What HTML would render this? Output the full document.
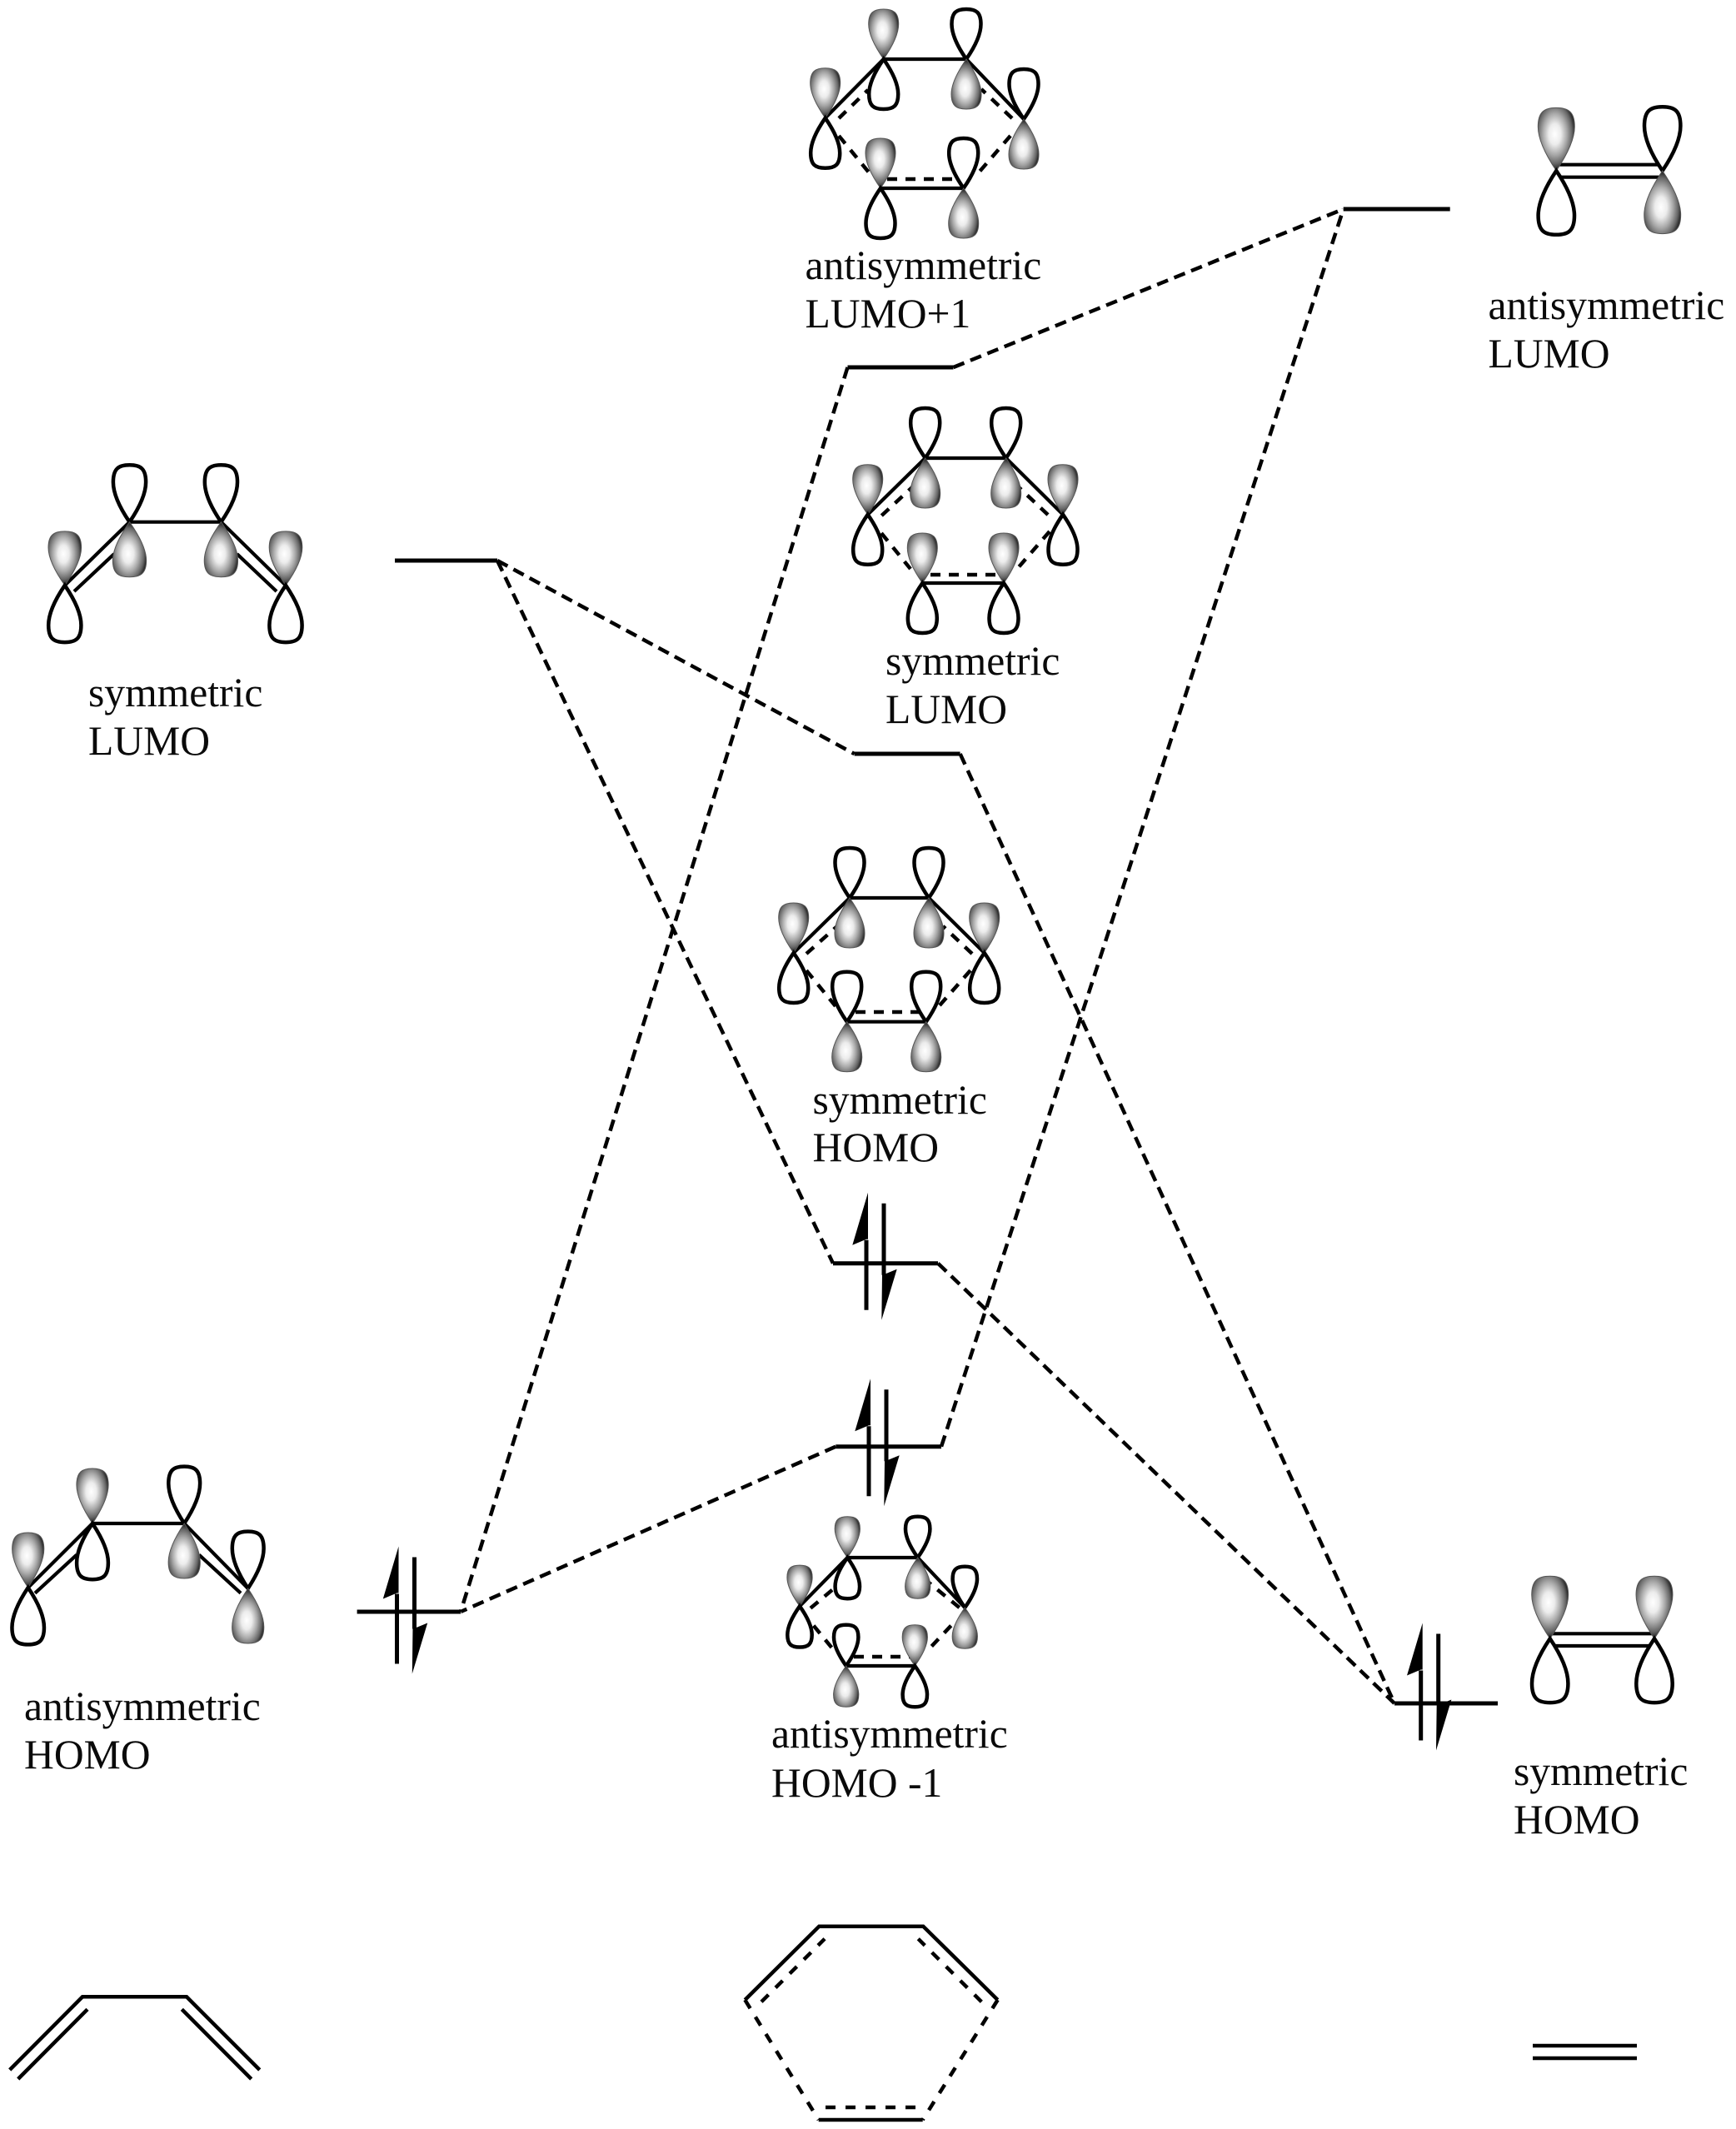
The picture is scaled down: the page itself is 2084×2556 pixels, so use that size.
<!DOCTYPE html>
<html><head><meta charset="utf-8"><title>Orbital correlation diagram</title>
<style>html,body{margin:0;padding:0;background:#fff}svg{display:block}
text{font-family:"Liberation Serif",serif;font-size:49.6px;fill:#0a0a0a}
.b{stroke:#000;stroke-width:4.5;fill:none}
.t{stroke:#000;stroke-width:4.2;fill:none}
.d{stroke:#000;stroke-width:4.5;fill:none;stroke-dasharray:12 10}
.c{stroke:#000;stroke-width:4.5;fill:none;stroke-dasharray:14 8}
.l{stroke:#000;stroke-width:5;fill:none}
</style></head><body>
<svg width="2084" height="2556" viewBox="0 0 2084 2556" xmlns="http://www.w3.org/2000/svg">
<defs>
<radialGradient id="g" cx=".46" cy=".42" r=".55">
<stop offset="0" stop-color="#ffffff"/><stop offset=".3" stop-color="#ececec"/><stop offset=".6" stop-color="#a8a8a8"/><stop offset=".85" stop-color="#666666"/><stop offset="1" stop-color="#2a2a2a"/>
</radialGradient>
<path id="s" d="M0,0 C-9,-13 -18,-29 -18,-42 C-18,-56 -12,-60 0,-60 C12,-60 18,-56 18,-42 C18,-29 9,-13 0,0Z" fill="url(#g)" stroke="#555" stroke-width="1" vector-effect="non-scaling-stroke"/>
<path id="o" d="M0,0 C-9,-13 -17.5,-29 -17.5,-42 C-17.5,-56 -12,-60 0,-60 C12,-60 17.5,-56 17.5,-42 C17.5,-29 9,-13 0,0Z" fill="#fff" stroke="#000" stroke-width="4.5" vector-effect="non-scaling-stroke"/>
<g id="e">
<path class="l" d="M0,-28V56M21,-72V14"/>
<polygon points="2,-85 -16.7,-22 0,-29 2,-29" fill="#000"/>
<polygon points="18.3,68 36.7,7 22,13 19,13" fill="#000"/>
</g>
</defs>
<rect width="2084" height="2556" fill="#fff"/>

<!-- connectors -->
<path class="c" d="M597,673L1025.6,905M597,673L1000,1516.7M1152.6,905L1674,2045M1144.5,441L1612.7,251M1017.5,441L553,1935M1126,1516.7L1674,2045M1003.3,1736.7L553,1935M1130,1736.7L1612.7,251"/>

<!-- levels -->
<path class="l" d="M474,673H597M1612.7,251H1740.7M1017.5,441H1144.5M1025.6,905H1152.6M1000,1516.7H1126M1003.3,1736.7H1130M428.6,1935H553M1674,2045H1798"/>
<use href="#e" transform="translate(1040,1516.7)"/>
<use href="#e" transform="translate(1043,1740.2)"/>
<use href="#e" transform="translate(476.5,1941.5)"/>
<use href="#e" transform="translate(1705.7,2033.5)"/>

<!-- LUMO+1 ring -->
<path class="t" d="M990.7,141.7L1060.7,71H1160L1229,143M1057,226H1156.7"/>
<path class="d" d="M1007,142L1042,108M1215,142L1178,107M1007,163L1043,207M1213,163L1175,207M1065,215H1148"/>
<use href="#s" transform="translate(1060.7,71)"/><use href="#o" transform="translate(1060.7,71) scale(1,-1)"/>
<use href="#o" transform="translate(1160,71)"/><use href="#s" transform="translate(1160,71) scale(1,-1)"/>
<use href="#s" transform="translate(990.7,141.7)"/><use href="#o" transform="translate(990.7,141.7) scale(1,-1)"/>
<use href="#o" transform="translate(1229,143)"/><use href="#s" transform="translate(1229,143) scale(1,-1)"/>
<use href="#s" transform="translate(1057,226)"/><use href="#o" transform="translate(1057,226) scale(1,-1)"/>
<use href="#o" transform="translate(1156.7,226)"/><use href="#s" transform="translate(1156.7,226) scale(1,-1)"/>
<text x="966.5" y="335">antisymmetric</text><text x="966.5" y="393">LUMO+1</text>

<!-- LUMO ring -->
<path class="t" d="M1041.7,617.7L1110.7,550H1207.7L1276,617.7M1107.3,700H1205"/>
<path class="d" d="M1058.3,619L1095,585M1258,618L1223,585M1058,640L1093,683M1260,638L1221,683M1117,690H1197"/>
<use href="#o" transform="translate(1110.7,550)"/><use href="#s" transform="translate(1110.7,550) scale(1,-1)"/>
<use href="#o" transform="translate(1207.7,550)"/><use href="#s" transform="translate(1207.7,550) scale(1,-1)"/>
<use href="#s" transform="translate(1041.7,617.7)"/><use href="#o" transform="translate(1041.7,617.7) scale(1,-1)"/>
<use href="#s" transform="translate(1276,617.7)"/><use href="#o" transform="translate(1276,617.7) scale(1,-1)"/>
<use href="#s" transform="translate(1107.3,700)"/><use href="#o" transform="translate(1107.3,700) scale(1,-1)"/>
<use href="#s" transform="translate(1205,700)"/><use href="#o" transform="translate(1205,700) scale(1,-1)"/>
<text x="1063" y="810">symmetric</text><text x="1063" y="868">LUMO</text>

<!-- HOMO ring -->
<path class="t" d="M952.7,1144L1020,1078H1115L1181.7,1144M1016.7,1226.7H1111.7"/>
<path class="d" d="M968,1145L1005,1112M1167,1145L1132,1112M968,1165L1003,1208M1165,1165L1128,1207M1027,1215H1103"/>
<use href="#o" transform="translate(1020,1078)"/><use href="#s" transform="translate(1020,1078) scale(1,-1)"/>
<use href="#o" transform="translate(1115,1078)"/><use href="#s" transform="translate(1115,1078) scale(1,-1)"/>
<use href="#s" transform="translate(952.7,1144)"/><use href="#o" transform="translate(952.7,1144) scale(1,-1)"/>
<use href="#s" transform="translate(1181.7,1144)"/><use href="#o" transform="translate(1181.7,1144) scale(1,-1)"/>
<use href="#o" transform="translate(1016.7,1226.7)"/><use href="#s" transform="translate(1016.7,1226.7) scale(1,-1)"/>
<use href="#o" transform="translate(1111.7,1226.7)"/><use href="#s" transform="translate(1111.7,1226.7) scale(1,-1)"/>
<text x="975.5" y="1337">symmetric</text><text x="975.5" y="1394">HOMO</text>

<!-- HOMO-1 ring -->
<path class="t" d="M960,1928.3L1017.3,1870H1101.7L1158.3,1930M1015.7,2000H1098.3"/>
<path class="d" d="M973,1930.7L1000,1908M1151.7,1930L1115,1900M976.7,1951.7L1000,1980M1141.7,1951.7L1115,1980M1025,1989H1097"/>
<use href="#s" transform="translate(1017.3,1870) scale(.84,.82)"/><use href="#o" transform="translate(1017.3,1870) scale(.84,-.82)"/>
<use href="#o" transform="translate(1101.7,1870) scale(.84,.82)"/><use href="#s" transform="translate(1101.7,1870) scale(.84,-.82)"/>
<use href="#s" transform="translate(960,1928.3) scale(.84,.82)"/><use href="#o" transform="translate(960,1928.3) scale(.84,-.82)"/>
<use href="#o" transform="translate(1158.3,1930) scale(.84,.82)"/><use href="#s" transform="translate(1158.3,1930) scale(.84,-.82)"/>
<use href="#o" transform="translate(1015.7,2000) scale(.84,.82)"/><use href="#s" transform="translate(1015.7,2000) scale(.84,-.82)"/>
<use href="#s" transform="translate(1098.3,2000) scale(.84,.82)"/><use href="#o" transform="translate(1098.3,2000) scale(.84,-.82)"/>
<text x="926" y="2098">antisymmetric</text><text x="926" y="2157">HOMO -1</text>

<!-- left LUMO -->
<path class="t" d="M77.8,702.7L155.5,626.7H265.4L343,702.7M89,710L137,665M332,710L284.5,665"/>
<use href="#o" transform="translate(155.5,626.7) scale(1.12,1.14)"/><use href="#s" transform="translate(155.5,626.7) scale(1.12,-1.1)"/>
<use href="#o" transform="translate(265.4,626.7) scale(1.12,1.14)"/><use href="#s" transform="translate(265.4,626.7) scale(1.12,-1.1)"/>
<use href="#s" transform="translate(77.8,702.7) scale(1.1,1.08)"/><use href="#o" transform="translate(77.8,702.7) scale(1.12,-1.14)"/>
<use href="#s" transform="translate(343,702.7) scale(1.1,1.08)"/><use href="#o" transform="translate(343,702.7) scale(1.12,-1.14)"/>
<text x="106" y="848">symmetric</text><text x="106" y="906">LUMO</text>

<!-- left HOMO -->
<path class="t" d="M33.7,1906L111,1829H221.2L297.7,1907M42,1912.7L92,1866.7M289,1912.7L239,1866.7"/>
<use href="#s" transform="translate(111,1829) scale(1.06,1.1)"/><use href="#o" transform="translate(111,1829) scale(1.08,-1.12)"/>
<use href="#o" transform="translate(221.2,1829) scale(1.08,1.14)"/><use href="#s" transform="translate(221.2,1829) scale(1.06,-1.1)"/>
<use href="#s" transform="translate(33.7,1906) scale(1.06,1.1)"/><use href="#o" transform="translate(33.7,1906) scale(1.1,-1.14)"/>
<use href="#o" transform="translate(297.7,1907) scale(1.08,1.14)"/><use href="#s" transform="translate(297.7,1907) scale(1.06,-1.1)"/>
<text x="29" y="2065">antisymmetric</text><text x="29" y="2123">HOMO</text>

<!-- right LUMO -->
<path class="t" d="M1868.3,197.7H1995.7M1868.3,212.7H1995.7"/>
<use href="#s" transform="translate(1868.3,205) scale(1.22,1.26)"/><use href="#o" transform="translate(1868.3,205) scale(1.24,-1.28)"/>
<use href="#o" transform="translate(1995.7,205) scale(1.24,1.28)"/><use href="#s" transform="translate(1995.7,205) scale(1.22,-1.26)"/>
<text x="1786.5" y="383">antisymmetric</text><text x="1786.5" y="441">LUMO</text>

<!-- right HOMO -->
<path class="t" d="M1860.7,1961.3H1986M1860.7,1976H1986"/>
<use href="#s" transform="translate(1860.7,1967.3) scale(1.22,1.25)"/><use href="#o" transform="translate(1860.7,1967.3) scale(1.24,-1.28)"/>
<use href="#s" transform="translate(1986,1967.3) scale(1.22,1.25)"/><use href="#o" transform="translate(1986,1967.3) scale(1.24,-1.28)"/>
<text x="1817" y="2143">symmetric</text><text x="1817" y="2201">HOMO</text>

<!-- bottom skeletons -->
<path class="b" d="M11.7,2485L99,2397.3H224L311.7,2485M21.7,2496L105,2412.3M301.7,2496L218.3,2412.3"/>
<path class="b" d="M894.3,2401L983.3,2312.7H1108.3L1197.7,2401M982.7,2545H1107.7"/>
<path class="d" d="M914,2403.3L990,2327.7M1178.3,2403.3L1102.3,2327.7M894.3,2401L982.7,2545M1197.7,2401L1107.7,2545M991,2530H1100" style="stroke-dasharray:12 12"/>
<path class="b" d="M1840,2456H1965M1840,2471H1965"/>
</svg>
</body></html>
